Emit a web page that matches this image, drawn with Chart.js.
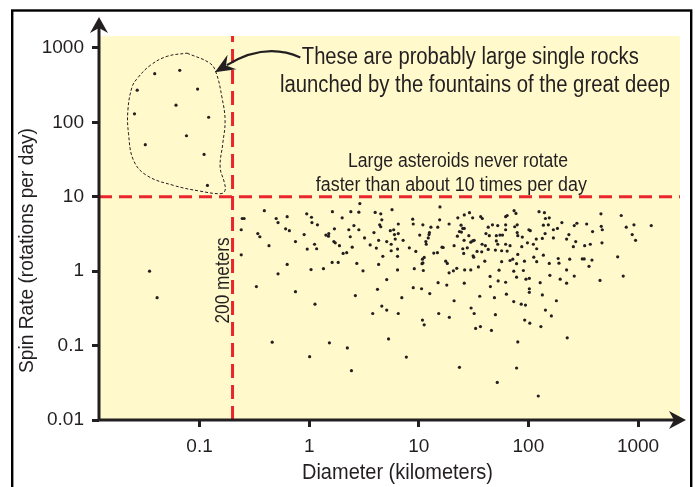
<!DOCTYPE html>
<html>
<head>
<meta charset="utf-8">
<script src="https://cdn.jsdelivr.net/npm/chart.js@4.4.1/dist/chart.umd.min.js"></script>
<style>
  html, body { margin: 0; padding: 0; background: #fff; }
  canvas { display: block; }
</style>
</head>
<body>
<canvas id="spin-chart" width="695" height="487"></canvas>
<script>
// asteroid diameter (km) and spin rate (rotations per day)
const diameterKm = [
  // inside the dashed outline
  0.039, 0.066, 0.027, 0.096, 0.061, 0.0255, 0.121, 0.076, 0.032, 0.11, 0.118,
  // lone small ones
  0.035, 0.041,
  // main cloud
  2.9, 15.6, 0.39, 1.63, 2.4, 2.84, 4.0, 4.5, 5.7, 0.245, 0.255, 0.5, 0.63, 0.95, 1.05, 1.06, 0.52,
  1.19, 2.0, 4.6, 4.4, 4.5, 8.8, 8.9, 10.9, 6.5, 15.5, 12.9, 14.9, 0.24, 0.61, 0.66, 0.34, 0.355,
  0.9, 1.42, 1.51, 1.5, 1.7, 2.3, 2.56, 2.84, 3.9, 5.5, 5.9, 6.0, 6.5, 10.2, 12.5, 12.4, 11.6, 12.2,
  16.3, 3.2, 2.37, 0.75, 1.68, 1.73, 1.89, 1.12, 1.17, 0.96, 0.43, 2.47, 3.6, 4.3, 5.1, 5.6, 6.1,
  7.2, 8.2, 11.7, 9.4, 4.1, 5.6, 6.4, 2.2, 2.04, 13.7, 14.8, 0.24, 4.7, 6.4, 11.2, 10.8, 10.9, 10.7,
  1.62, 1.84, 2.72, 4.3, 0.63, 1.04, 1.35, 3.1, 6.4, 9.1, 11.0, 0.52, 5.1, 15.0, 0.33, 8.9, 10.6, 4.2,
  74, 77, 125, 140, 459, 703, 26, 29, 22.7, 31, 36.7, 38, 143, 155, 24.3, 25.2, 26, 43, 47, 52.5,
  62, 79, 75, 137, 152, 169, 184, 202, 262, 277, 340, 462, 472, 781, 918, 1320, 62, 64, 23.5, 18.9,
  24.5, 22.5, 28.6, 41, 44, 51, 55, 58, 62, 79, 80, 88, 101, 104, 142, 169, 234, 223, 385, 885,
  950, 25.9, 29.8, 31, 32, 21, 25.2, 27.7, 25.7, 37.8, 40.5, 43, 51, 52.5, 50, 57, 62, 64, 68, 87,
  98, 111, 118, 119, 134, 270, 257, 326, 367, 469, 16.7, 17.6, 18.2, 18.9, 20.7, 22.2, 26.2, 29.8,
  31.3, 31.7, 34, 35, 37.5, 40, 44.7, 54, 57, 68, 72, 73.5, 78, 78, 80, 90, 92, 95, 102, 112,
  119, 137, 155, 157, 187, 190, 195, 223, 238, 262, 310, 323, 357, 380, 450, 652, 733, 18, 26, 45,
  53, 62, 102, 128, 223,
  // slow rotators
  0.75, 2.64, 12.6, 7.0, 1.13, 4.6, 5.1, 3.8, 6.5, 15.2, 10.8, 11.2, 0.46, 1.53, 2.23, 5.3, 1.01,
  7.7, 2.43, 102, 63, 134, 21, 36, 49, 73.5, 86, 94, 180, 30, 32, 50, 143, 19, 92.5, 103, 162,
  33, 36.5, 46, 130, 226, 80, 23.5, 78, 52, 123
];
const spinRate = [
  450, 500, 270, 280, 170, 130, 117, 66, 50, 37, 14.2,
  1.0, 0.44,
  8.1, 7.3, 6.5, 6.3, 6.3, 6.2, 6.15, 5.9, 6.7, 5.1, 5.1, 5.1, 5.4, 5.9, 5.3, 4.5, 4.5,
  4.2, 5.2, 4.9, 4.2, 3.95, 5.0, 4.3, 4.2, 4.3, 4.9, 3.9, 3.9, 3.6, 3.7, 3.5, 3.2, 2.9,
  3.1, 3.05, 3.2, 2.95, 3.7, 3.6, 4.1, 3.6, 3.3, 3.5, 3.6, 3.1, 3.2, 3.05, 3.3, 3.1, 2.5, 2.8,
  2.1, 2.8, 2.9, 2.5, 2.5, 2.4, 2.2, 2.3, 2.0, 1.98, 2.2, 2.1, 2.25, 2.6, 2.5, 2.3, 2.7,
  2.6, 2.06, 2.3, 1.84, 2.04, 1.88, 1.98, 1.77, 1.73, 1.75, 1.77, 1.66, 1.58, 1.58, 1.53, 1.45, 1.29, 1.26,
  1.31, 1.31, 1.27, 1.23, 1.23, 1.05, 1.08, 1.01, 1.04, 1.08, 1.02, 0.92, 0.77, 0.7, 0.62, 0.6, 0.58, 0.57,
  6.5, 5.97, 6.3, 6.1, 5.9, 5.6, 5.7, 6.1, 5.2, 5.2, 5.4, 5.1, 5.1, 5.2, 4.15, 3.75, 3.75, 3.9, 4.2, 4.1,
  4.2, 4.2, 3.95, 4.15, 4.2, 3.6, 3.75, 4.5, 4.1, 4.4, 4.3, 4.0, 3.6, 3.9, 4.2, 4.1, 5.4, 5.6, 3.4, 4.3,
  3.35, 2.95, 3.0, 3.2, 3.0, 3.0, 3.05, 3.05, 3.6, 3.3, 3.0, 2.87, 3.6, 3.5, 3.2, 2.8, 3.1, 2.7, 3.4, 3.1,
  2.6, 2.6, 2.45, 2.55, 2.6, 2.2, 2.0, 2.06, 1.73, 2.3, 2.2, 1.96, 2.55, 2.3, 1.92, 1.88, 2.3, 1.86, 2.2, 2.13,
  2.4, 2.3, 2.7, 2.0, 2.75, 2.5, 2.13, 2.2, 2.3, 2.4, 2.08, 1.36, 1.27, 0.95, 1.01, 1.09, 1.04, 1.04,
  1.61, 1.54, 1.84, 1.14, 1.82, 1.36, 0.85, 1.03, 1.34, 1.39, 1.45, 1.0, 1.26, 0.83, 1.68, 1.02, 1.36, 0.78, 0.8, 1.54,
  1.34, 1.64, 1.27, 0.88, 1.48, 1.28, 0.78, 1.04, 1.45, 0.86, 1.46, 1.46, 1.16, 1.41, 0.75, 1.56, 0.86, 0.65, 0.69, 0.62,
  0.74, 0.71, 0.58, 0.7, 0.69,
  0.53, 0.47, 0.5, 0.44, 0.36, 0.34, 0.3, 0.27, 0.27, 0.27, 0.22, 0.19, 0.111, 0.109, 0.093, 0.123, 0.071,
  0.07, 0.046, 0.52, 0.49, 0.48, 0.4, 0.46, 0.44, 0.39, 0.36, 0.35, 0.4, 0.32, 0.27, 0.26, 0.3, 0.24, 0.22, 0.2, 0.25,
  0.17, 0.18, 0.16, 0.18, 0.127, 0.112, 0.051, 0.05, 0.032, 0.021
];

// hand-drawn loop around the fast small rocks
const outlineDiameter = [0.0768, 0.125, 0.142, 0.16, 0.171, 0.163, 0.154, 0.168, 0.171, 0.157, 0.101, 0.058, 0.033, 0.025, 0.0225, 0.0222, 0.0242, 0.0269, 0.0355, 0.0504, 0.0768];
const outlineSpin = [851, 619, 459, 218, 106, 52, 25, 15.7, 12.2, 11.0, 11.9, 14.2, 19.3, 30.8, 70, 145, 297, 385, 582, 769, 851];

const sizeLimitKm = 0.2; // 200 meters
const spinLimit = 10; // rotations per day

const diameterTicks = [0.1, 1, 10, 100, 1000];
const spinTicks = [0.01, 0.1, 1, 10, 100, 1000];

const ink = "#231f20";
const red = "#e8262b";
const paper = "#fff9cc";
const fontFamily = '"Liberation Sans", Arial, sans-serif';

const xMin = 0.0121, xMax = 2415;
const yMin = 0.01, yMax = 1445;

const points = diameterKm.map((d, i) => ({ x: d, y: spinRate[i] }));
const outline = outlineDiameter.map((d, i) => ({ x: d, y: outlineSpin[i] }));

// text squeezed to a given width, like the condensed face of the original
function fitText(ctx, text, cx, cy, size, width, angle) {
  ctx.save();
  ctx.font = size + "px " + fontFamily;
  const w = ctx.measureText(text).width;
  ctx.translate(cx, cy);
  ctx.rotate(angle || 0);
  ctx.scale(width / w, 1);
  ctx.textAlign = "center";
  ctx.textBaseline = "alphabetic";
  ctx.fillStyle = ink;
  ctx.fillText(text, 0, size * 0.358);
  ctx.restore();
}

function arrowHead(ctx, tx, ty, dx, dy, len, half, notch) {
  const nx = -dy, ny = dx;
  ctx.beginPath();
  ctx.moveTo(tx, ty);
  ctx.lineTo(tx - dx * len + nx * half, ty - dy * len + ny * half);
  ctx.lineTo(tx - dx * notch, ty - dy * notch);
  ctx.lineTo(tx - dx * len - nx * half, ty - dy * len - ny * half);
  ctx.closePath();
  ctx.fill();
}

const notes = [
  { text: "These are probably large single rocks", x: 29.5, y: 793, size: 23, width: 337 },
  { text: "launched by the fountains of the great deep", x: 32.6, y: 328, size: 23, width: 390 },
  { text: "Large asteroids never rotate", x: 22.8, y: 31.7, size: 20, width: 220 },
  { text: "faster than about 10 times per day", x: 19.8, y: 15.1, size: 20, width: 271 },
  { text: "200 meters", x: 0.161, y: 0.75, size: 19.5, width: 86, angle: -Math.PI / 2 },
];

const pointer = { from: { x: 0.83, y: 745 }, bend: { x: 0.397, y: 1208 }, tip: { x: 0.138, y: 469 } };

const decor = {
  id: "decor",
  beforeDraw(chart) {
    const { ctx, chartArea: a } = chart;
    ctx.save();
    ctx.fillStyle = paper;
    ctx.fillRect(a.left, a.top, a.right - a.left, a.bottom - a.top);
    ctx.strokeStyle = "#000";
    ctx.lineWidth = 2.4;
    ctx.strokeRect(12.2, 10.5, 679, 540);
    ctx.restore();
  },
  afterDraw(chart) {
    const { ctx, chartArea: a, scales } = chart;
    const sx = scales.x, sy = scales.y;
    ctx.save();
    // axes with arrows
    ctx.strokeStyle = ink;
    ctx.fillStyle = ink;
    ctx.lineWidth = 3;
    ctx.beginPath();
    ctx.moveTo(a.left, a.bottom + 1.5);
    ctx.lineTo(a.left, a.top - 10);
    ctx.moveTo(a.left - 1.5, a.bottom);
    ctx.lineTo(a.right - 2, a.bottom);
    ctx.stroke();
    arrowHead(ctx, a.left, a.top - 19, 0, -1, 16, 9, 11);
    arrowHead(ctx, a.right + 6, a.bottom, 1, 0, 17, 9, 12);

    // curved pointer
    const p0 = { x: sx.getPixelForValue(pointer.from.x), y: sy.getPixelForValue(pointer.from.y) };
    const pc = { x: sx.getPixelForValue(pointer.bend.x), y: sy.getPixelForValue(pointer.bend.y) };
    const pt = { x: sx.getPixelForValue(pointer.tip.x), y: sy.getPixelForValue(pointer.tip.y) };
    let dx = pt.x - pc.x, dy = pt.y - pc.y;
    const dl = Math.hypot(dx, dy);
    dx /= dl; dy /= dl;
    const headLen = 20;
    ctx.lineWidth = 2.2;
    ctx.beginPath();
    ctx.moveTo(p0.x, p0.y);
    ctx.quadraticCurveTo(pc.x, pc.y, pt.x - dx * headLen * 0.7, pt.y - dy * headLen * 0.7);
    ctx.stroke();
    arrowHead(ctx, pt.x, pt.y, dx, dy, headLen, 8.5, 13);

    // notes
    notes.forEach((n) => {
      fitText(ctx, n.text, sx.getPixelForValue(n.x), sy.getPixelForValue(n.y), n.size, n.width, n.angle);
    });

    // axis titles
    fitText(ctx, "Diameter (kilometers)", 397.5, 471, 22, 191);
    fitText(ctx, "Spin Rate (rotations per day)", 25.5, 250.5, 21, 245, -Math.PI / 2);
    ctx.restore();
  },
};

const ctx = document.getElementById("spin-chart");

new Chart(ctx, {
  type: "scatter",
  data: {
    datasets: [
      {
        data: [{ x: sizeLimitKm, y: yMin }, { x: sizeLimitKm, y: yMax }],
        showLine: true,
        borderColor: red,
        borderWidth: 3,
        borderDash: [14, 7],
        pointRadius: 0,
      },
      {
        data: [{ x: xMin, y: spinLimit }, { x: xMax, y: spinLimit }],
        showLine: true,
        borderColor: red,
        borderWidth: 3,
        borderDash: [13, 7],
        pointRadius: 0,
      },
      {
        data: outline,
        showLine: true,
        borderColor: ink,
        borderWidth: 1,
        borderDash: [3, 2],
        tension: 0.4,
        pointRadius: 0,
      },
      {
        data: points,
        pointRadius: 1.6,
        pointBackgroundColor: ink,
        pointBorderWidth: 0,
      },
    ],
  },
  options: {
    responsive: false,
    animation: false,
    layout: { padding: { top: 36, right: 15, left: 0, bottom: 0 } },
    plugins: { legend: { display: false }, tooltip: { enabled: false } },
    scales: {
      x: {
        type: "logarithmic",
        min: xMin,
        max: xMax,
        afterBuildTicks: (axis) => {
          axis.ticks = diameterTicks.map((v) => ({ value: v }));
        },
        afterFit: (axis) => {
          axis.height = 67;
        },
        border: { display: false },
        grid: { drawOnChartArea: false, tickLength: 7, tickWidth: 3, tickColor: ink },
        ticks: {
          color: ink,
          font: { family: fontFamily, size: 19 },
          padding: 8,
          maxRotation: 0,
          autoSkip: false,
          callback: (v) => String(v),
        },
      },
      y: {
        type: "logarithmic",
        min: yMin,
        max: yMax,
        afterBuildTicks: (axis) => {
          axis.ticks = spinTicks.map((v) => ({ value: v }));
        },
        afterFit: (axis) => {
          axis.width = 99;
        },
        border: { display: false },
        grid: { drawOnChartArea: false, tickLength: 7, tickWidth: 3, tickColor: ink },
        ticks: {
          color: ink,
          font: { family: fontFamily, size: 19 },
          padding: 8,
          autoSkip: false,
          callback: (v) => String(v),
        },
      },
    },
  },
  plugins: [decor],
});
</script>
</body>
</html>
